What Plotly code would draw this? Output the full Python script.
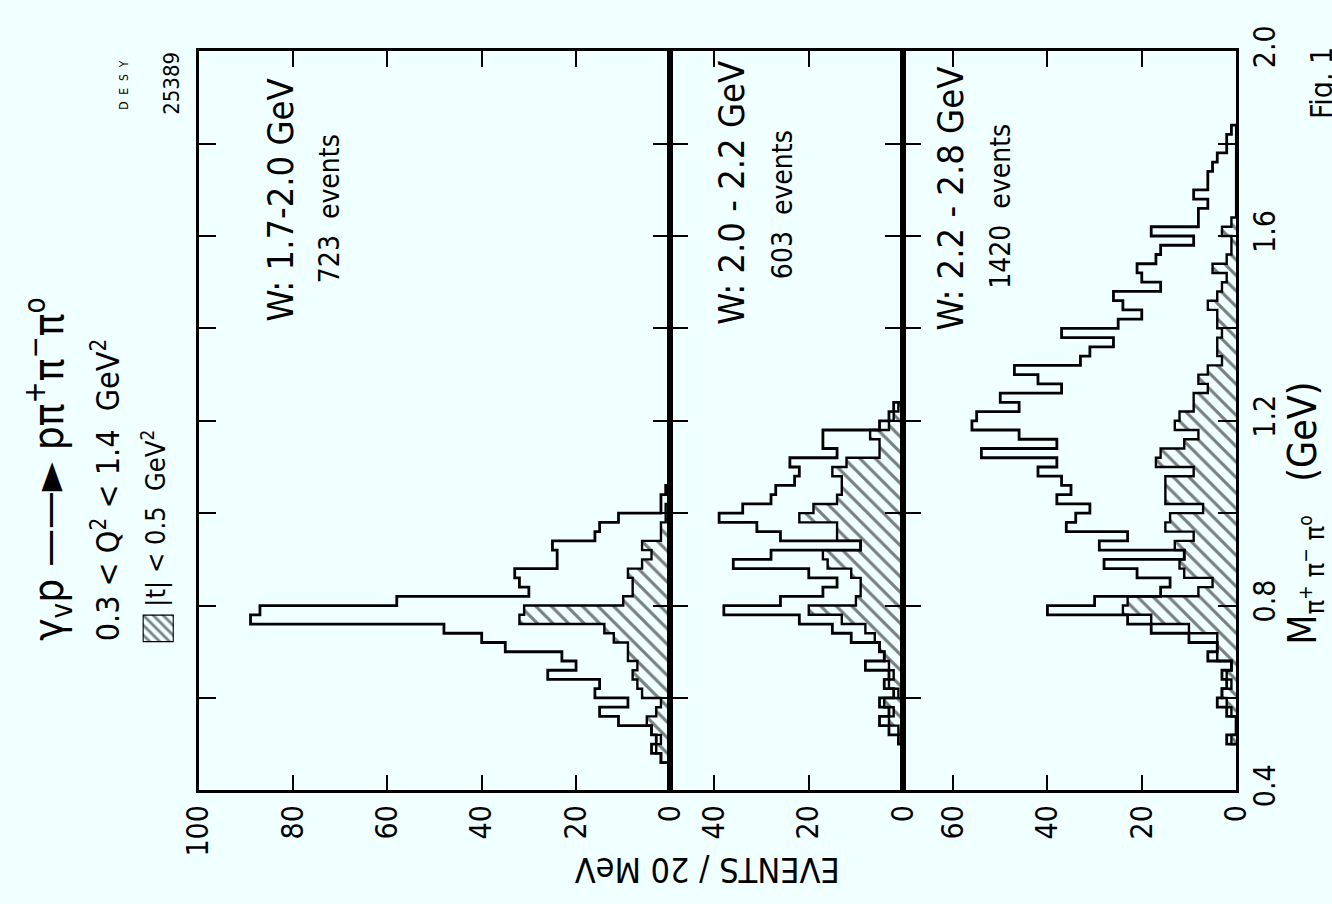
import plotly.graph_objects as go

# ---------------- data (events per 20 MeV bin) ----------------
BIN_WIDTH = 0.02  # GeV

# Panel 1  W: 1.7-2.0 GeV  (first bin starts at 0.46 GeV)
m_start_1 = 0.46
open_1 = [2, 4, 3, 4, 11, 15, 9, 16, 15, 26, 20, 23, 35, 40, 48,
          89, 87, 58, 30, 32, 33, 24, 24, 25, 16, 15, 11, 2, 2, 1]
hatch_1 = [2, 3, 2, 4, 5, 3, 2, 6, 7, 8, 7, 9, 9, 12, 14,
           32, 31, 10, 8, 8, 9, 6, 4, 6, 2, 2, 1, 1, 0, 0]

# Panel 2  W: 2.0-2.2 GeV  (first bin starts at 0.50 GeV)
m_start_2 = 0.50
open_2 = [1, 3, 5, 3, 5, 2, 4, 3, 8, 4, 5, 11, 15, 22, 38, 26, 17, 14, 20,
          36, 28, 9, 26, 31, 39, 34, 28, 27, 23, 22, 24, 14, 17, 17, 5, 3, 2]
hatch_2 = [0, 1, 3, 2, 4, 1, 3, 2, 3, 4, 5, 6, 8, 13, 20, 10, 9, 9, 11,
           16, 17, 9, 14, 14, 22, 19, 14, 13, 13, 15, 12, 5, 5, 7, 3, 2, 1]

# Panel 3  W: 2.2-2.8 GeV  (first bin starts at 0.50 GeV)
m_start_3 = 0.50
open_3 = [2, 0, 0, 2, 4, 3, 2, 3, 1, 6, 4, 10, 18, 23, 40, 30, 16, 14, 21,
          28, 11, 29, 23, 36, 34, 31, 38, 35, 37, 42, 38, 54, 38, 46, 56,
          55, 46, 50, 37, 42, 47, 33, 31, 26, 37, 25, 20, 24, 26, 16, 20,
          21, 17, 16, 9, 18, 8, 8, 6, 9, 6, 6, 5, 4, 2, 2, 1]
hatch_3 = [1, 0, 0, 1, 2, 3, 1, 2, 1, 4, 4, 4, 10, 18, 24, 23, 8, 5, 11,
           12, 11, 13, 9, 15, 14, 7, 15, 15, 15, 9, 17, 16, 11, 8, 13,
           12, 9, 9, 6, 8, 6, 3, 4, 4, 3, 4, 4, 6, 4, 3, 2, 5, 2, 1, 1,
           3, 1, 0, 0, 0, 0, 0, 0, 0, 0, 0, 0]

panel_labels = ["W: 1.7-2.0 GeV", "W: 2.0 - 2.2 GeV", "W: 2.2 - 2.8 GeV"]
panel_events = ["723  events", "603  events", "1420  events"]

count_ticks_1 = [0, 20, 40, 60, 80, 100]
count_ticks_2 = [0, 20, 40]
count_ticks_3 = [0, 20, 40, 60]
mass_ticks = [0.4, 0.6, 0.8, 1.0, 1.2, 1.4, 1.6, 1.8, 2.0]
mass_ticktext = ["0.4", "", "0.8", "", "1.2", "", "1.6", "", "2.0"]

# ---------------- layout geometry (figure pixels) ----------------
W, H = 1332, 904
BG = "#F0FFFF"
FONT = "Liberation Sans Narrow, DejaVu Sans Condensed, Liberation Sans, Arial, sans-serif"

X_LEFT, X_B1, X_B2, X_RIGHT = 185.5, 670.0, 909.0, 1251.0
Y_TOP, Y_BOT = 26.5, 802.5
PX_PER_COUNT = (X_B1 - X_LEFT) / 100.0


def fx(px):
    return px / W


def fy(py):
    return 1 - py / H


def step_path(m0, counts):
    xs, ys = [0], [m0]
    for i, c in enumerate(counts):
        lo = round(m0 + i * BIN_WIDTH, 4)
        hi = round(lo + BIN_WIDTH, 4)
        xs += [c, c]
        ys += [lo, hi]
    xs.append(0)
    ys.append(round(m0 + len(counts) * BIN_WIDTH, 4))
    return xs, ys


HATCH = dict(shape="\\", fgcolor="black", bgcolor=BG, size=11, solidity=0.28)

fig = go.Figure()

panels = [
    (m_start_1, open_1, hatch_1, "x", "y"),
    (m_start_2, open_2, hatch_2, "x2", "y2"),
    (m_start_3, open_3, hatch_3, "x3", "y3"),
]
for m0, op, ha, xa, ya in panels:
    hx, hy = step_path(m0, ha)
    fig.add_trace(go.Scatter(
        x=hx, y=hy, xaxis=xa, yaxis=ya, mode="lines",
        line=dict(color="black", width=2.4),
        fill="toself", fillcolor=BG, fillpattern=HATCH,
        hoverinfo="skip", showlegend=False))
    ox, oy = step_path(m0, op)
    fig.add_trace(go.Scatter(
        x=ox, y=oy, xaxis=xa, yaxis=ya, mode="lines",
        line=dict(color="black", width=2.8),
        hoverinfo="skip", showlegend=False))

# legend swatch (hatched box)
fig.add_trace(go.Scatter(
    x=[0, 1, 1, 0, 0], y=[0, 0, 1, 1, 0], xaxis="x4", yaxis="y4",
    mode="lines", line=dict(color="black", width=2.2),
    fill="toself", fillcolor=BG,
    fillpattern=dict(shape="\\", fgcolor="black", bgcolor=BG, size=7, solidity=0.38),
    hoverinfo="skip", showlegend=False))

tickfont = dict(family=FONT, size=30, color="black")
common_x = dict(showgrid=False, zeroline=False, showline=True, linecolor="black",
                linewidth=2.5, mirror="ticks", ticks="inside", ticklen=16,
                tickwidth=2, tickcolor="black", tickangle=-90, tickfont=tickfont,
                fixedrange=True)
common_y = dict(showgrid=False, zeroline=False, showline=True, linecolor="black",
                linewidth=2.5, mirror="ticks", ticks="inside", ticklen=18,
                tickwidth=2, tickcolor="black", range=[0.4, 2.0],
                tickvals=mass_ticks, fixedrange=True,
                domain=[fy(Y_BOT), fy(Y_TOP)])

w2 = (X_B2 - X_B1) / PX_PER_COUNT
w3 = (X_RIGHT - X_B2) / PX_PER_COUNT

fig.update_layout(
    width=W, height=H,
    margin=dict(l=0, r=0, t=0, b=0),
    paper_bgcolor=BG, plot_bgcolor=BG,
    showlegend=False,
    xaxis=dict(common_x, domain=[fx(X_LEFT), fx(X_B1)], range=[100, 0],
               tickvals=count_ticks_1, anchor="y"),
    xaxis2=dict(common_x, domain=[fx(X_B1), fx(X_B2)], range=[w2, 0],
                tickvals=count_ticks_2, anchor="y2"),
    xaxis3=dict(common_x, domain=[fx(X_B2), fx(X_RIGHT)], range=[w3, 0],
                tickvals=count_ticks_3, anchor="y3"),
    yaxis=dict(common_y, anchor="x", showticklabels=False),
    yaxis2=dict(common_y, anchor="x2", showticklabels=False),
    yaxis3=dict(common_y, anchor="x3", side="right", ticktext=mass_ticktext,
                tickangle=-90, tickfont=tickfont),
    xaxis4=dict(domain=[fx(128), fx(160)], range=[0, 1], visible=False,
                anchor="y4", fixedrange=True),
    yaxis4=dict(domain=[fy(647), fy(618)], range=[0, 1], visible=False,
                anchor="x4", fixedrange=True),
)


def ann(text, px, py, size, angle=-90, xanchor="center", yanchor="bottom"):
    fig.add_annotation(text=text, x=fx(px), y=fy(py), xref="paper", yref="paper",
                       showarrow=False, textangle=angle, xanchor=xanchor,
                       yanchor=yanchor, font=dict(family=FONT, size=size, color="black"))


# title block (left-aligned lines, read bottom to top)
ann("γ<sub>v</sub>p ——► pπ<sup>+</sup>π<sup>−</sup>π<sup>o</sup>", 31, 648, 42)
ann("0.3 < Q<sup>2</sup> < 1.4  GeV<sup>2</sup>", 90, 648, 32)
ann("|t| < 0.5  GeV<sup>2</sup>", 140, 612, 27)
ann("D  E  S  Y", 109, 90, 12)
ann("25389", 158, 95, 22)

# panel labels
label_x = [270, 733, 958]
events_x = [320, 785, 1009]
label_bottom = [312, 316, 322]
events_bottom = [272, 268, 278]
for i in range(3):
    ann(panel_labels[i], label_x[i], label_bottom[i], 36)
    ann(panel_events[i], events_x[i], events_bottom[i], 28)

# axis titles
ann("EVENTS / 20 MeV", 708, 886, 34, angle=180, yanchor="middle")
ann("M<sub>π<sup>+</sup> π<sup>−</sup> π<sup>o</sup></sub>   (GeV)", 1322, 652, 39)
ann("Fig. 1", 1338, 100, 30)

fig.write_html("out.html", config={"displayModeBar": False},
               post_script="document.body.style.margin='0';")
